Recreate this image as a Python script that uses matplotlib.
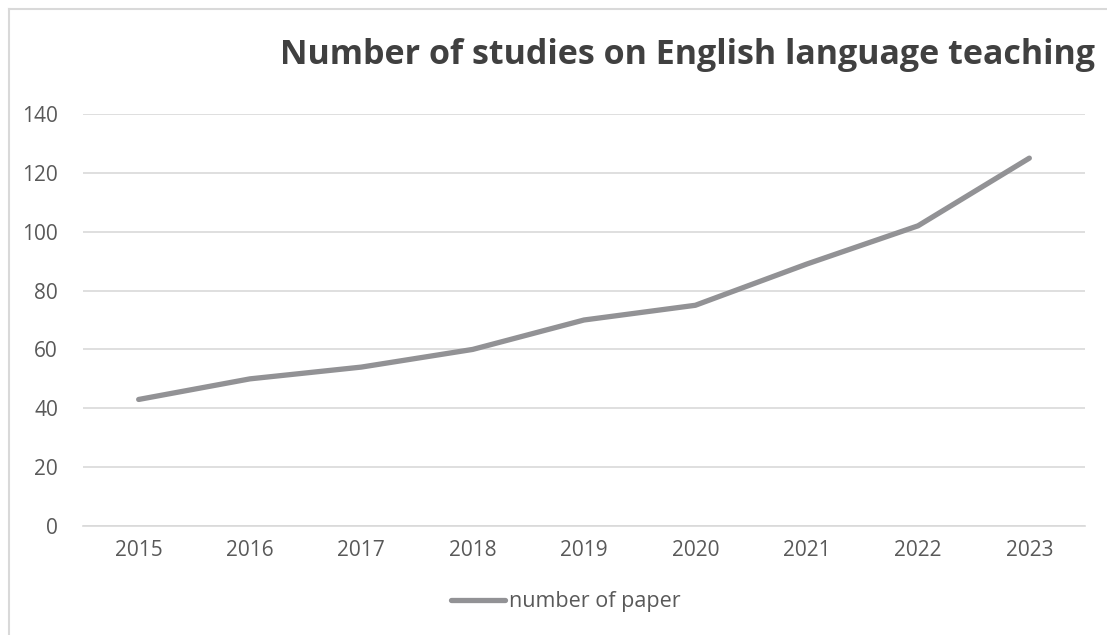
import matplotlib
matplotlib.use("Agg")
import matplotlib.pyplot as plt
from matplotlib.lines import Line2D

# data
years = ["2015", "2016", "2017", "2018", "2019", "2020", "2021", "2022", "2023"]
papers = [43, 50, 54, 60, 70, 75, 89, 102, 125]
yticks = [0, 20, 40, 60, 80, 100, 120, 140]

plt.rcParams["font.family"] = ["Open Sans", "DejaVu Sans"]

fig = plt.figure(figsize=(11.07, 6.35), dpi=100)
ax = fig.add_axes([83 / 1107, 1 - 526 / 635, (1085 - 83) / 1107, (526 - 114) / 635])

x = list(range(len(years)))
line, = ax.plot(x, papers, color="#929295", linewidth=3.8, solid_capstyle="round",
                solid_joinstyle="round", label="number of paper")

ax.set_xlim(-0.5, len(years) - 0.5)
ax.set_ylim(0, 140)
ax.set_yticks(yticks)
ax.set_xticks(x)
ax.set_xticklabels(years)
ax.yaxis.grid(True, color="#d9d9d9", linewidth=1.2)
ax.set_axisbelow(True)
for s in ["top", "right", "left"]:
    ax.spines[s].set_visible(False)
ax.spines["bottom"].set_color("#d9d9d9")
ax.spines["bottom"].set_linewidth(1.2)
ax.tick_params(axis="both", length=0, labelsize=15, labelcolor="#595959")
ax.tick_params(axis="y", pad=18)
ax.tick_params(axis="x", pad=10)

fig.text(1095 / 1107, 1 - 55 / 635, "Number of studies on English language teaching",
         ha="right", va="center", fontsize=24.5, fontweight="bold", color="#404040")

fig.legend(handles=[line], loc="center", bbox_to_anchor=(566 / 1107, 1 - 602 / 635),
           frameon=False, fontsize=15.5, labelcolor="#595959", handlelength=2.5,
           handletextpad=0.2)

# light outer border (left and top visible)
fig.add_artist(Line2D([9 / 1107, 9 / 1107], [0, 1 - 9 / 635], color="#d9d9d9", linewidth=1.5))
fig.add_artist(Line2D([9 / 1107, 1], [1 - 9 / 635, 1 - 9 / 635], color="#d9d9d9", linewidth=1.5))

fig.savefig("out.png", dpi=100)
